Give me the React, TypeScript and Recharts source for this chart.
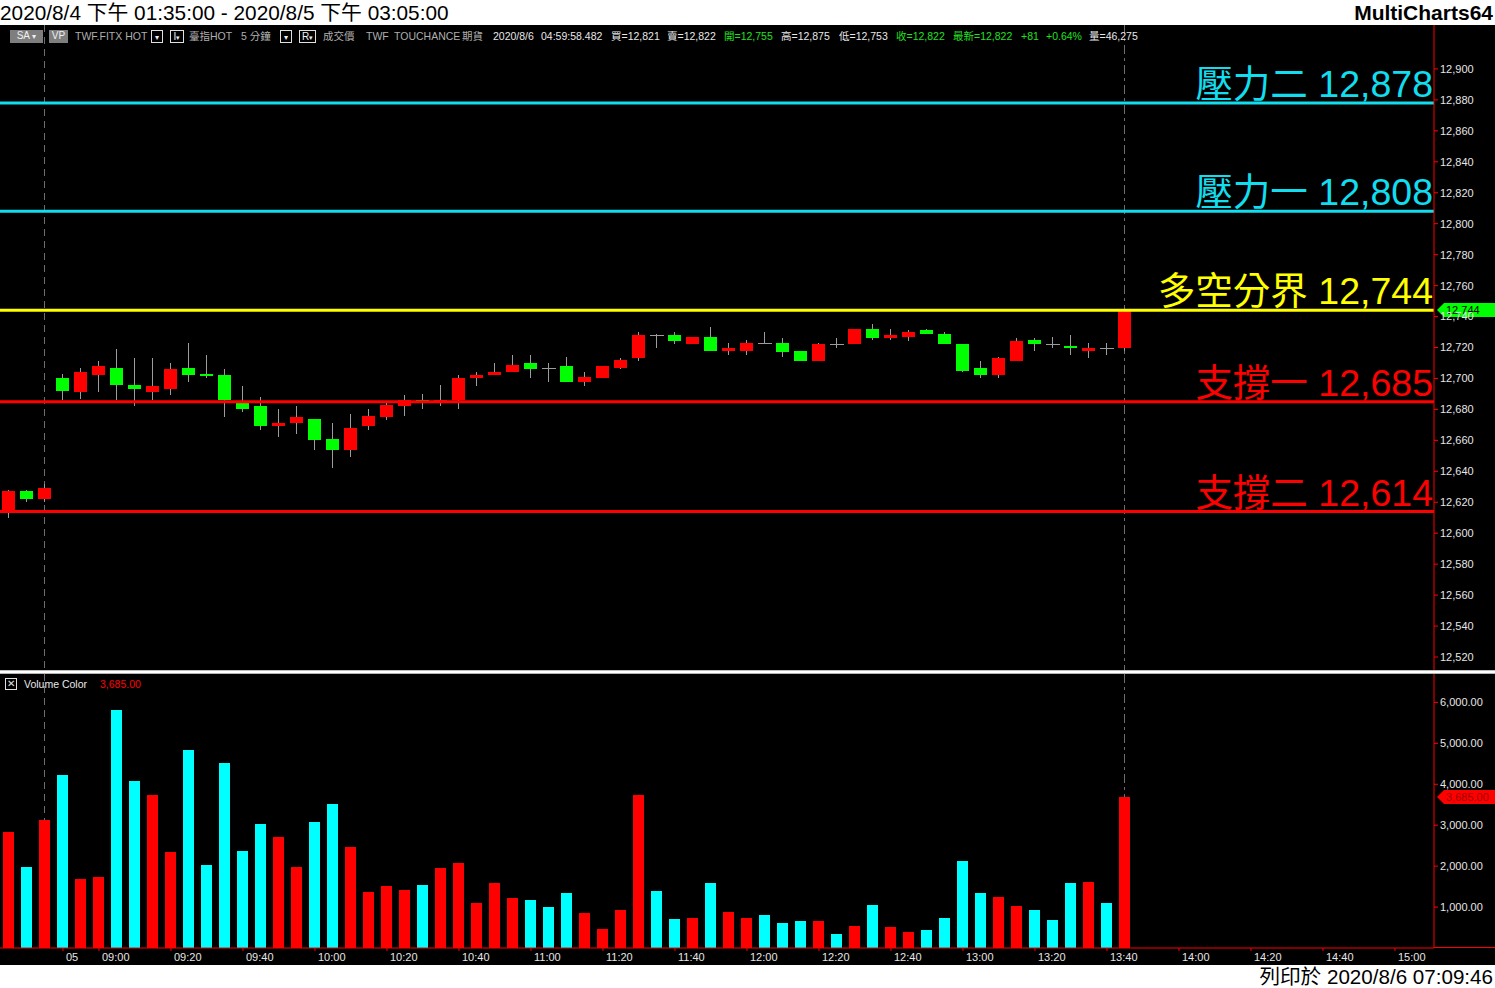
import React from 'react';
import { ComposedChart, Bar, XAxis, YAxis, ReferenceLine } from 'recharts';

// ---------- data ----------
const OPEN = [12614, 12627, 12622, 12700, 12691, 12702, 12707, 12696, 12691, 12693, 12707, 12703, 12702, 12684, 12682, 12669, 12671, 12674, 12661, 12654, 12669, 12675, 12682, 12686, 12685, 12686, 12700, 12702, 12704, 12710, 12707, 12708, 12698, 12700, 12707, 12713, 12728, 12728, 12722, 12727, 12718, 12718, 12723, 12723, 12718, 12711, 12722, 12722, 12732, 12726, 12727, 12731, 12729, 12722, 12707, 12702, 12711, 12725, 12722, 12721, 12718, 12720, 12720];
const HIGH = [12628, 12628, 12632, 12703, 12707, 12711, 12719, 12713, 12713, 12710, 12723, 12715, 12706, 12695, 12688, 12680, 12682, 12674, 12671, 12677, 12680, 12684, 12689, 12690, 12696, 12702, 12704, 12710, 12715, 12715, 12710, 12714, 12704, 12708, 12713, 12730, 12729, 12730, 12727, 12733, 12723, 12725, 12730, 12726, 12718, 12723, 12726, 12732, 12735, 12732, 12731, 12732, 12730, 12722, 12711, 12714, 12726, 12726, 12727, 12728, 12723, 12723, 12744];
const LOW = [12610, 12620, 12620, 12686, 12687, 12691, 12686, 12682, 12686, 12689, 12698, 12700, 12675, 12678, 12667, 12662, 12664, 12654, 12642, 12649, 12667, 12673, 12676, 12680, 12682, 12680, 12695, 12702, 12704, 12700, 12698, 12698, 12695, 12700, 12706, 12711, 12720, 12722, 12722, 12718, 12715, 12715, 12722, 12714, 12711, 12711, 12720, 12722, 12725, 12725, 12724, 12729, 12722, 12704, 12700, 12700, 12711, 12718, 12720, 12715, 12713, 12715, 12718];
const CLOSE = [12627, 12622, 12629, 12692, 12704, 12708, 12696, 12693, 12695, 12706, 12702, 12702, 12686, 12680, 12669, 12671, 12675, 12660, 12654, 12668, 12676, 12683, 12686, 12685, 12686, 12700, 12702, 12704, 12709, 12706, 12707, 12698, 12701, 12708, 12712, 12728, 12728, 12724, 12727, 12718, 12720, 12723, 12723, 12717, 12711, 12722, 12722, 12732, 12726, 12728, 12730, 12729, 12722, 12705, 12702, 12713, 12724, 12722, 12722, 12720, 12720, 12720, 12744];
const VOLUME = [2827, 1972, 3120, 4219, 1678, 1727, 5808, 4073, 3731, 2338, 4830, 2021, 4513, 2363, 3022, 2705, 1972, 3071, 3511, 2460, 1361, 1507, 1410, 1532, 1947, 2069, 1092, 1581, 1214, 1165, 994, 1336, 848, 457, 921, 3731, 1385, 701, 726, 1581, 872, 726, 799, 603, 652, 652, 335, 530, 1043, 506, 384, 432, 726, 2118, 1336, 1239, 1019, 921, 677, 1581, 1605, 1092, 3685];

const LEVEL_NAMES = ['壓力二', '壓力一', '多空分界', '支撐一', '支撐二'];
const LEVEL_VALUES = [12878, 12808, 12744, 12685, 12614];
const LEVEL_COLORS = ['#12DDEE', '#12DDEE', '#FFFF00', '#FF0000', '#FF0000'];

const PRICE_TICKS = [12520, 12540, 12560, 12580, 12600, 12620, 12640, 12660, 12680, 12700, 12720, 12740, 12760, 12780, 12800, 12820, 12840, 12860, 12880, 12900];
const VOL_TICKS = [1000, 2000, 3000, 4000, 5000, 6000];
const X_TICKS = [3, 5, 9, 13, 17, 21, 25, 29, 33, 37, 41, 45, 49, 53, 57, 61, 65, 69, 73, 77];
const X_TICK_LABELS = ['05', '09:00', '09:20', '09:40', '10:00', '10:20', '10:40', '11:00', '11:20', '11:40', '12:00', '12:20', '12:40', '13:00', '13:20', '13:40', '14:00', '14:20', '14:40', '15:00'];

const LAST_PRICE = 12744;
const LAST_VOLUME = 3685;
const MARKER_BARS = [2, 62]; // session break, current bar
const MARKER_DASHES = ['7 5', '9 4 3 4'];

const X_DOMAIN = [-0.5, 79.1667];
const PRICE_DOMAIN = [12511.6, 12928.4];
const VOL_DOMAIN = [0, 6694];

// ---------- styling ----------
const RED = '#FF0000';
const GREEN = '#00FF00';
const CYAN = '#00FFFF';
const WICK = '#9C9C9C';
const MARKER = '#6E6E6E';
const AXIS_TEXT = '#E6E6E6';
const FONT = '"Liberation Sans", Arial, "Noto Sans CJK TC", sans-serif';

const data = OPEN.map((o, i) => ({
  i,
  o,
  h: HIGH[i],
  l: LOW[i],
  c: CLOSE[i],
  range: [LOW[i], HIGH[i]],
  v: VOLUME[i],
  up: CLOSE[i] > o,
}));

const fmtPrice = (v: number) => v.toLocaleString('en-US');
const fmtVol = (v: number) => v.toLocaleString('en-US', { minimumFractionDigits: 2, maximumFractionDigits: 2 });

// dashed vertical marker drawn behind the bar itself, spanning the whole plot (bar background box)
function markerLine(props: any, cx: number) {
  const k = MARKER_BARS.indexOf(props.payload.i);
  const bg = props.background;
  if (k < 0 || !bg) return null;
  return (
    <line key="m" x1={cx + 0.5} x2={cx + 0.5} y1={bg.y} y2={bg.y + bg.height} stroke={MARKER} strokeWidth={1} strokeDasharray={MARKER_DASHES[k]} />
  );
}

function Candle(props: any) {
  const { x, y, width, height, payload } = props;
  if (!payload || x == null || y == null) return null;
  const { o, h, l, c } = payload;
  const top = Math.min(y, y + height);
  const hgt = Math.abs(height);
  const cx = Math.floor(x + width / 2 + 0.01);
  const span = h - l || 1;
  const py = (v: number) => top + ((h - v) / span) * hgt;
  const parts: any[] = [];
  parts.push(markerLine(props, cx));
  parts.push(<line key="w" x1={cx + 0.5} x2={cx + 0.5} y1={py(h)} y2={py(l)} stroke={WICK} strokeWidth={1} />);
  if (o === c) {
    const yy = Math.round(py(o)) + 0.5;
    parts.push(<line key="d" x1={cx - 6} x2={cx + 8} y1={yy} y2={yy} stroke={WICK} strokeWidth={1} />);
  } else {
    const t = Math.round(py(Math.max(o, c)));
    const b = Math.round(py(Math.min(o, c)));
    parts.push(<rect key="b" x={cx - 6} y={t} width={13} height={Math.max(2, b - t)} fill={c > o ? RED : GREEN} />);
  }
  return <g shapeRendering="crispEdges">{parts}</g>;
}

function VolBar(props: any) {
  const { x, y, width, height, payload } = props;
  if (!payload || x == null) return null;
  const cx = Math.floor(x + width / 2 + 0.01);
  const top = Math.min(y, y + height);
  return (
    <g shapeRendering="crispEdges">
      {markerLine(props, cx)}
      <rect x={cx - 5} y={Math.round(top)} width={11} height={Math.round(Math.abs(height))} fill={payload.up ? RED : CYAN} />
    </g>
  );
}

function LevelLabel(props: any) {
  const vb = props.viewBox || {};
  const xr = (vb.x || 0) + (vb.width || 0);
  return (
    <text x={xr - 1} y={vb.y - 6} textAnchor="end" fill={props.color} fontSize={37.5} fontFamily={FONT}>
      {props.name + ' ' + fmtPrice(props.value)}
    </text>
  );
}

function Tag(props: any) {
  const vb = props.viewBox || {};
  const xr = (vb.x || 0) + (vb.width || 0);
  const y = Math.round(vb.y);
  const pts = `${xr + 3},${y} ${xr + 10},${y - 7} ${xr + 61},${y - 7} ${xr + 61},${y + 7} ${xr + 10},${y + 7}`;
  return (
    <g>
      <polygon points={pts} fill={props.bg} />
      <text x={xr + 12} y={y + 4} fontSize={11} fontFamily={FONT} fill={props.fg}>{props.text}</text>
    </g>
  );
}

function TimeTick(props: any) {
  const { x, y, payload } = props;
  const idx = X_TICKS.indexOf(payload.value);
  const label = idx >= 0 ? X_TICK_LABELS[idx] : '';
  return (
    <text x={x + 3} y={y} dy="0.71em" fontSize={11} fontFamily={FONT} fill={AXIS_TEXT}>{label}</text>
  );
}

const Box = ({ left, width, children, bg, border }: any) => (
  <div style={{ position: 'absolute', left, top: 30, width, height: 13, background: bg || 'transparent', border: border ? '1px solid #E0E0E0' : 'none', boxSizing: 'border-box', color: '#F0F0F0', fontSize: 10, lineHeight: '12px', textAlign: 'center', fontFamily: FONT }}>{children}</div>
);

const HeaderText = ({ left, color, children }: any) => (
  <div style={{ position: 'absolute', left, top: 30, fontSize: 10.5, lineHeight: '13px', color, fontFamily: FONT, whiteSpace: 'nowrap' }}>{children}</div>
);

export default function App() {
  const gray = '#AEAEAE';
  const white = '#E8E8E8';
  const green = '#22E022';
  return (
    <div style={{ position: 'absolute', left: 0, top: 0, width: 1495, height: 988, background: '#000', overflow: 'hidden', fontFamily: FONT }}>
      {/* title bar */}
      <div style={{ position: 'absolute', left: 0, top: 0, width: 1495, height: 25, background: '#fff' }}>
        <div style={{ position: 'absolute', left: 0, top: 0, fontSize: 20.8, lineHeight: '25px', color: '#000', whiteSpace: 'nowrap' }}>2020/8/4 下午 01:35:00 - 2020/8/5 下午 03:05:00</div>
        <div style={{ position: 'absolute', right: 2, top: 0, fontSize: 21, lineHeight: '25px', color: '#000', fontWeight: 'bold' }}>MultiCharts64</div>
      </div>

      {/* price pane */}
      <div style={{ position: 'absolute', left: 0, top: 25 }}>
        <ComposedChart width={1495} height={645} data={data} margin={{ top: 0, right: 0, left: 0, bottom: 0 }}>
          <XAxis type="number" dataKey="i" domain={X_DOMAIN} allowDataOverflow hide />
          <YAxis orientation="right" width={61} domain={PRICE_DOMAIN} allowDataOverflow ticks={PRICE_TICKS} interval={0}
            tickFormatter={fmtPrice} axisLine={{ stroke: RED }} tickLine={{ stroke: RED }} tickSize={4}
            tick={{ fill: AXIS_TEXT, fontSize: 11, fontFamily: FONT }} />
          <Bar dataKey="range" barSize={13} shape={<Candle />} isAnimationActive={false} />
          {LEVEL_VALUES.map((v, k) => (
            <ReferenceLine key={k} y={v} stroke={LEVEL_COLORS[k]} strokeWidth={3}
              label={<LevelLabel name={LEVEL_NAMES[k]} value={v} color={LEVEL_COLORS[k]} />} />
          ))}
          <ReferenceLine y={LAST_PRICE} stroke="none" label={<Tag text={fmtPrice(LAST_PRICE)} bg={GREEN} fg="#000" />} />
        </ComposedChart>
      </div>

      {/* header row */}
      <Box left={10} width={33} bg="#7E7E7E">SA <span style={{ fontSize: 8 }}>▾</span></Box>
      <Box left={49} width={19} bg="#7E7E7E">VP</Box>
      <HeaderText left={75} color={gray}>TWF.FITX HOT</HeaderText>
      <Box left={151} width={12} border><span style={{ fontSize: 8 }}>▾</span></Box>
      <Box left={170} width={14} border>I<span style={{ fontSize: 7 }}>▾</span></Box>
      <HeaderText left={189} color={gray}>臺指HOT</HeaderText>
      <HeaderText left={241} color={gray}>5 分鐘</HeaderText>
      <Box left={280} width={12} border><span style={{ fontSize: 8 }}>▾</span></Box>
      <Box left={299} width={17} border>R<span style={{ fontSize: 7 }}>▾</span></Box>
      <HeaderText left={323} color={gray}>成交價</HeaderText>
      <HeaderText left={366} color={gray}>TWF</HeaderText>
      <HeaderText left={394} color={gray}>TOUCHANCE</HeaderText>
      <HeaderText left={462} color={gray}>期貨</HeaderText>
      <HeaderText left={493} color={white}>2020/8/6</HeaderText>
      <HeaderText left={541} color={white}>04:59:58.482</HeaderText>
      <HeaderText left={611} color={white}>買=12,821</HeaderText>
      <HeaderText left={667} color={white}>賣=12,822</HeaderText>
      <HeaderText left={724} color={green}>開=12,755</HeaderText>
      <HeaderText left={781} color={white}>高=12,875</HeaderText>
      <HeaderText left={839} color={white}>低=12,753</HeaderText>
      <HeaderText left={896} color={green}>收=12,822</HeaderText>
      <HeaderText left={953} color={green}>最新=12,822</HeaderText>
      <HeaderText left={1021} color={green}>+81</HeaderText>
      <HeaderText left={1046} color={green}>+0.64%</HeaderText>
      <HeaderText left={1089} color={white}>量=46,275</HeaderText>

      {/* pane separator */}
      <div style={{ position: 'absolute', left: 0, top: 670, width: 1495, height: 4, background: 'linear-gradient(#9A9A9A, #FFFFFF 35%, #FFFFFF 65%, #8A8A8A)' }} />

      {/* volume pane */}
      <div style={{ position: 'absolute', left: 0, top: 674 }}>
        <ComposedChart width={1495} height={291} data={data} margin={{ top: 0, right: 0, left: 0, bottom: 0 }}>
          <XAxis type="number" dataKey="i" domain={X_DOMAIN} allowDataOverflow ticks={X_TICKS} interval={0} height={17}
            axisLine={{ stroke: RED }} tickLine={{ stroke: RED }} tickSize={3} tick={<TimeTick />} />
          <YAxis orientation="right" width={61} domain={VOL_DOMAIN} allowDataOverflow ticks={VOL_TICKS} interval={0}
            tickFormatter={fmtVol} axisLine={{ stroke: RED }} tickLine={{ stroke: RED }} tickSize={4}
            tick={{ fill: AXIS_TEXT, fontSize: 11, fontFamily: FONT }} />
          <Bar dataKey="v" barSize={11} shape={<VolBar />} isAnimationActive={false} />
          <ReferenceLine y={LAST_VOLUME} stroke="none" label={<Tag text={fmtVol(LAST_VOLUME)} bg={RED} fg="#A00000" />} />
        </ComposedChart>
      </div>
      <div style={{ position: 'absolute', left: 1434, top: 947, width: 61, height: 1, background: RED }} />

      {/* volume label */}
      <div style={{ position: 'absolute', left: 5, top: 678, width: 12, height: 12, border: '1px solid #E0E0E0', boxSizing: 'border-box', color: '#E0E0E0', fontSize: 10, lineHeight: '10px', textAlign: 'center' }}>✕</div>
      <div style={{ position: 'absolute', left: 24, top: 677, fontSize: 10.5, lineHeight: '14px', color: white }}>Volume Color</div>
      <div style={{ position: 'absolute', left: 100, top: 677, fontSize: 10.5, lineHeight: '14px', color: RED }}>{fmtVol(LAST_VOLUME)}</div>

      {/* footer */}
      <div style={{ position: 'absolute', left: 0, top: 965, width: 1495, height: 23, background: '#fff' }}>
        <div style={{ position: 'absolute', right: 2, top: 0, fontSize: 20.6, lineHeight: '23px', color: '#000', whiteSpace: 'nowrap' }}>列印於 2020/8/6 07:09:46</div>
      </div>
    </div>
  );
}
